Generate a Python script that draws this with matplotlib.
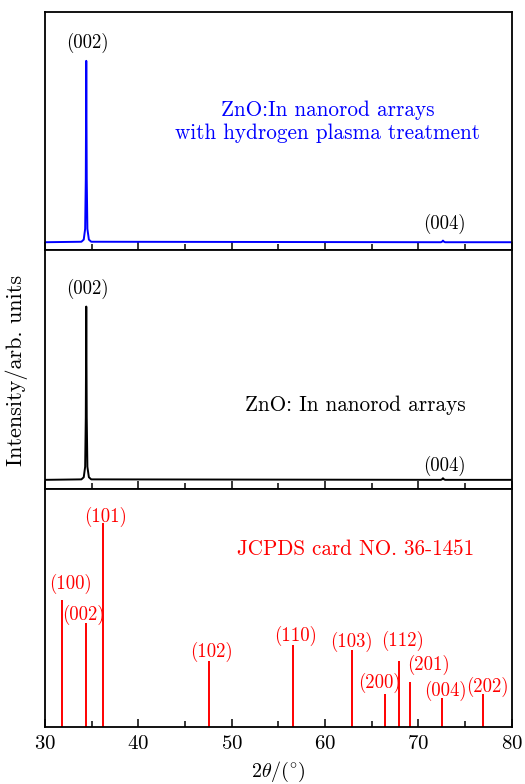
import matplotlib
matplotlib.use("Agg")
import matplotlib.pyplot as plt
from matplotlib.ticker import MultipleLocator

plt.rcParams['font.family'] = ['cmr10', 'DejaVu Serif']
plt.rcParams['mathtext.fontset'] = 'cm'
plt.rcParams['axes.formatter.use_mathtext'] = True
plt.rcParams['axes.unicode_minus'] = False

# XRD scan, ZnO:In with H plasma (top panel)
two_theta = [30, 33.9, 34.15, 34.3, 34.37, 34.42, 34.47, 34.54, 34.7, 34.95,
             72.4, 72.55, 72.62, 72.7, 72.85, 80]
h_plasma = [3.4, 3.6, 4.5, 9.0, 30.0, 79.5, 30.0, 9.0, 4.5, 3.6,
            3.4, 3.7, 4.1, 3.7, 3.4, 3.4]

# XRD scan, ZnO:In (middle panel)
zno_in = [3.7, 3.9, 4.8, 9.2, 30.0, 76.4, 30.0, 9.2, 4.8, 3.9,
          3.7, 4.0, 4.4, 4.0, 3.7, 3.7]

# JCPDS 36-1451 reference lines
jcpds_pos = [31.77, 34.42, 36.25, 47.54, 56.60, 62.86, 66.38, 67.96, 69.10, 72.56, 76.95]
jcpds_int = [53.4, 43.7, 85.5, 27.7, 34.5, 32.4, 13.9, 27.7, 18.9, 12.2, 13.9]
jcpds_hkl = ['(100)', '(002)', '(101)', '(102)', '(110)', '(103)',
             '(200)', '(112)', '(201)', '(004)', '(202)']
label_x = [32.7, 34.1, 36.5, 47.8, 56.8, 62.8, 65.8, 68.3, 71.1, 72.9, 77.4]
label_y = [60.1, 47.1, 88.2, 31.5, 38.2, 35.7, 18.5, 36.1, 26.1, 15.1, 16.8]

fig, axes = plt.subplots(3, 1, sharex=True, figsize=(5.25, 7.84), dpi=100)
fig.subplots_adjust(left=0.0857, right=0.975, top=0.9847, bottom=0.0727, hspace=0)

ax1, ax2, ax3 = axes

ax1.plot(two_theta, h_plasma, color='blue', lw=1.4)
ax1.text(34.5, 87, '(002)', ha='center', va='center', fontsize=13.5)
ax1.text(72.8, 10.9, '(004)', ha='center', va='center', fontsize=13.5)
ax1.text(60.3, 58.8, 'ZnO:In nanorod arrays', ha='center', va='center',
         color='blue', fontsize=15.3)
ax1.text(60.3, 49.2, 'with hydrogen plasma treatment', ha='center', va='center',
         color='blue', fontsize=15.3)

ax2.plot(two_theta, zno_in, color='black', lw=1.4)
ax2.text(34.5, 84, '(002)', ha='center', va='center', fontsize=13.5)
ax2.text(72.8, 9.7, '(004)', ha='center', va='center', fontsize=13.5)
ax2.text(63.2, 34.9, 'ZnO: In nanorod arrays', ha='center', va='center', fontsize=15.3)

ax3.vlines(jcpds_pos, 0, jcpds_int, color='red', lw=1.4)
for x, y, t in zip(label_x, label_y, jcpds_hkl):
    ax3.text(x, y, t, ha='center', va='center', color='red', fontsize=13.5)
ax3.text(63.3, 74.4, 'JCPDS card NO. 36-1451', ha='center', va='center',
         color='red', fontsize=15.2)

for ax in axes:
    ax.set_ylim(0, 100)
    ax.set_yticks([])
    ax.set_xlim(30, 80)
    ax.xaxis.set_major_locator(MultipleLocator(10))
    ax.xaxis.set_minor_locator(MultipleLocator(5))
    ax.tick_params(axis='x', which='both', direction='in', top=False)
    ax.tick_params(axis='x', which='major', length=6, width=1.1)
    ax.tick_params(axis='x', which='minor', length=4, width=1.1)
    for s in ax.spines.values():
        s.set_linewidth(1.3)

ax3.tick_params(axis='x', labelsize=15, pad=6)
ax3.set_xlabel(r'$2\theta/(^{\circ})$', fontsize=14.5, labelpad=5)
fig.text(0.032, 0.527, 'Intensity/arb. units', rotation=90, ha='center', va='center',
         fontsize=16)

fig.savefig('out.png', dpi=100)
